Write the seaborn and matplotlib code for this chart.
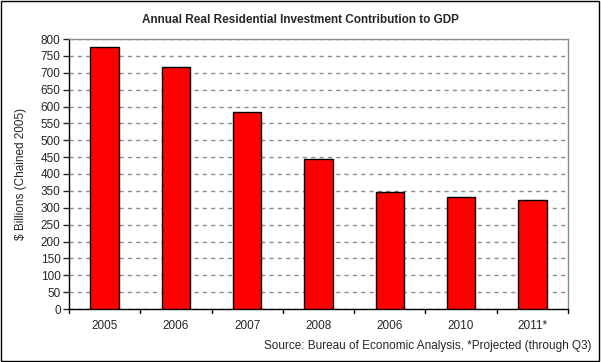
import pandas as pd
import seaborn as sns
import matplotlib.pyplot as plt
from matplotlib.patches import Rectangle

# Данные графика
# во втором "2006" пробел, чтобы категории не слились (в оригинале опечатка вместо 2009)
years = ['2005', '2006', '2007', '2008', '2006 ', '2010', '2011*']
values = [776, 717, 584, 445, 347, 332, 323]
y_ticks = list(range(0, 801, 50))

data = pd.DataFrame({'year': years, 'value': values})

sns.set_style('white')
plt.rcParams['font.family'] = ['Liberation Sans', 'DejaVu Sans']

fig = plt.figure(figsize=(6.01, 3.62), dpi=100)
ax = fig.add_axes([69 / 601, 1 - 309 / 362, 499 / 601, 270 / 362])

sns.barplot(data=data, x='year', y='value', color='#ff0000', saturation=1,
            width=0.4, edgecolor='black', linewidth=1, ax=ax, zorder=3)

ax.set_ylim(0, 800)
ax.set_xlim(-0.5, len(years) - 0.5)
ax.set_yticks(y_ticks)
ax.set_yticklabels([str(t) for t in y_ticks], fontsize=8.5)
ax.set_xticks(range(len(years)))
ax.set_xticklabels([y.strip() for y in years], fontsize=8.5)
ax.tick_params(axis='x', length=0, pad=8)
ax.tick_params(axis='y', length=4, width=1, direction='out', left=True, pad=2)

# деления между категориями на оси X
for i in range(len(years) + 1):
    ax.plot([i - 0.5, i - 0.5], [0, -12], color='black', lw=1, clip_on=False)

ax.yaxis.grid(True, linestyle=(0, (3, 3)), color='#8c8c8c', linewidth=1, zorder=0)
ax.set_axisbelow(True)

for side in ['top', 'right']:
    ax.spines[side].set_color('#8c8c8c')
    ax.spines[side].set_linewidth(1)
for side in ['left', 'bottom']:
    ax.spines[side].set_color('black')
    ax.spines[side].set_linewidth(1)

ax.set_xlabel('')
ax.set_ylabel('$ Billions (Chained 2005)', fontsize=8.5, labelpad=10)

fig.text(0.5, 1 - 20 / 362, 'Annual Real Residential Investment Contribution to GDP',
         ha='center', va='center', fontsize=8.5, fontweight='bold')
fig.text(1 - 9 / 601, 1 - 346 / 362, 'Source: Bureau of Economic Analysis, *Projected (through Q3)',
         ha='right', va='center', fontsize=8.5)

# рамка вокруг всей картинки
fig.patches.append(Rectangle((0.002, 0.003), 0.995, 0.994, transform=fig.transFigure,
                             fill=False, edgecolor='black', linewidth=1))

fig.savefig('out.png', dpi=100)
